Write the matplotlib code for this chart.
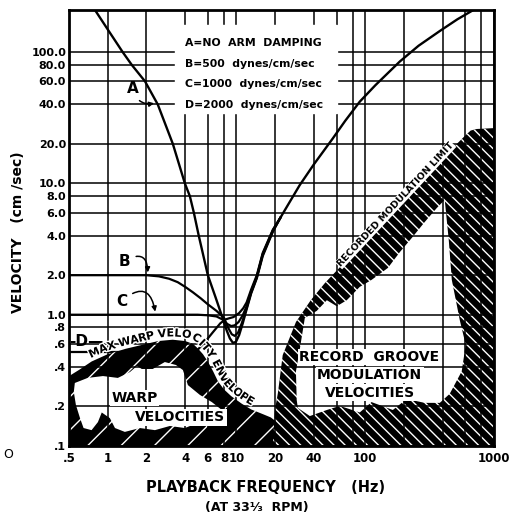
import matplotlib.pyplot as plt
import numpy as np
from matplotlib import patheffects
from matplotlib.patches import Rectangle
from matplotlib.ticker import NullLocator, NullFormatter
from matplotlib.transforms import IdentityTransform

plt.rcParams['font.family'] = 'DejaVu Sans'
plt.rcParams['font.weight'] = 'bold'
plt.rcParams['hatch.linewidth'] = 1.0

# %% data (frequency in Hz, velocity in cm/sec)
x_ticks = [0.5, 1, 2, 4, 6, 8, 10, 20, 40, 100, 1000]
x_labels = ['.5', '1', '2', '4', '6', '8', '10', '20', '40', '100', '1000']
x_grid_extra = [60, 80, 200, 400, 600, 800]
y_ticks = [0.1, 0.2, 0.4, 0.6, 0.8, 1, 2, 4, 6, 8, 10, 20, 40, 60, 80, 100]
y_labels = ['.1', '.2', '.4', '.6', '.8', '1.0', '2.0', '4.0', '6.0', '8.0',
            '10.0', '20.0', '40.0', '60.0', '80.0', '100.0']

a_freq = [0.796, 1.02, 1.31, 1.54, 1.95, 2.45, 3.21, 3.98, 4.35, 4.67, 5.1,
          6.0, 6.9, 7.85, 8.4, 8.9, 9.4, 9.9, 10.5, 11.2, 12.0, 13.0, 14.4,
          16.0, 19.2, 22, 25, 31, 40, 56, 70, 90.8, 120, 186, 260, 380, 520,
          736]
a_vel = [210, 145, 100, 80, 60, 40, 20, 10, 8, 6, 4, 2, 1.35, 0.93, 0.76,
         0.66, 0.61, 0.62, 0.70, 0.86, 1.1, 1.45, 1.9, 2.8, 4.3, 5.5, 6.8,
         9.7, 14, 22, 30, 42, 56, 85, 112, 145, 178, 217]
b_freq = [0.5, 2.0, 2.5, 3.0, 3.5, 4.0, 4.6, 5.3, 6.0, 7.0, 8.0, 8.6, 9.2,
          9.7, 10.3, 11.0, 12.0, 13.0, 14.4, 16.0, 19.2, 22]
b_vel = [2.0, 2.0, 1.96, 1.88, 1.77, 1.63, 1.48, 1.33, 1.2, 1.07, 0.95, 0.8,
         0.71, 0.69, 0.73, 0.86, 1.12, 1.47, 1.92, 2.85, 4.35, 5.5]
c_freq = [0.5, 5.0, 6.0, 7.0, 7.8, 8.5, 9.1, 9.7, 10.4, 11.2, 12.0, 13.0,
          14.4, 16.0, 19.2, 22]
c_vel = [1.0, 1.0, 0.99, 0.97, 0.92, 0.85, 0.82, 0.83, 0.88, 0.99, 1.16,
         1.5, 1.95, 2.9, 4.4, 5.5]
d_freq = [0.5, 1.0, 2.0, 4.0, 5.0, 5.7, 6.6, 7.5, 8.2, 8.8, 9.5, 10.5, 11.3,
          12.0, 13.0, 14.4, 16.0, 19.2, 22]
d_vel = [0.52, 0.52, 0.52, 0.52, 0.54, 0.62, 0.74, 0.86, 0.92, 0.94, 0.96,
         1.03, 1.12, 1.24, 1.55, 2.0, 2.95, 4.45, 5.5]

# max warp velocity envelope (top of the warp region)
env_freq = [0.5, 0.6, 0.75, 1.0, 1.38, 2.0, 2.47, 3.2, 4.0, 4.6, 5.05, 5.5,
            6.0, 6.6, 7.2, 8.0, 9.1, 11, 13, 16, 18.5, 21, 24, 26]
env_vel = [0.34, 0.38, 0.44, 0.50, 0.55, 0.60, 0.63, 0.645, 0.63, 0.60, 0.55,
           0.50, 0.44, 0.37, 0.31, 0.27, 0.24, 0.21, 0.19, 0.175, 0.165, 0.15,
           0.125, 0.1]
warp_hole_f = [0.556, 0.70, 0.92, 1.20, 1.49, 1.69, 1.84, 2.24, 2.78, 3.39,
               3.84, 4.2, 5.2, 6.44, 7.71, 7.99, 6.8, 5.0, 3.98, 3.04, 2.33,
               1.78, 1.36, 1.14, 1.04, 0.90, 0.84, 0.75, 0.65, 0.61, 0.567,
               0.546]
warp_hole_v = [0.302, 0.33, 0.341, 0.33, 0.366, 0.407, 0.386, 0.386, 0.436,
               0.414, 0.379, 0.291, 0.245, 0.216, 0.188, 0.158, 0.145, 0.15,
               0.137, 0.142, 0.132, 0.137, 0.128, 0.137, 0.163, 0.18, 0.152,
               0.132, 0.137, 0.163, 0.205, 0.258]

# recorded modulation limit (outline of the groove region)
groove_f = [19.2, 19.9, 21, 22.9, 29.0, 37.8, 48.6, 69.5, 109, 170, 265, 415,
            594, 660, 736, 1000, 1000]
groove_v = [0.1, 0.188, 0.253, 0.493, 0.88, 1.29, 1.74, 2.52, 3.97, 6.38,
            10.3, 16.2, 23, 25.3, 26, 26.4, 0.1]
groove_hole_f = [29.4, 29.0, 31.0, 34.0, 42.1, 50.4, 60.2, 72, 90.8, 112, 150,
                 186, 230, 290, 360, 415, 446, 471, 543, 604, 562, 454, 380,
                 290, 210, 164, 112, 90.8, 63.5, 50.4, 37.2, 30.0]
groove_hole_v = [0.224, 0.37, 0.54, 0.944, 1.07, 1.29, 1.16, 1.29, 1.63, 1.84,
                 2.27, 3.0, 3.84, 5.08, 6.5, 7.5, 3.71, 1.84, 0.91, 0.59, 0.37,
                 0.25, 0.213, 0.213, 0.228, 0.188, 0.216, 0.18, 0.202, 0.188,
                 0.169, 0.195]

legend_lines = ['A=NO  ARM  DAMPING', 'B=500  dynes/cm/sec',
                'C=1000  dynes/cm/sec', 'D=2000  dynes/cm/sec']


# %%


def curved_label(ax, xs, ys, label, x_start, size, lift):
    renderer = ax.figure.canvas.get_renderer()
    pts = ax.transData.transform(np.column_stack([xs, ys]))
    s = np.concatenate([[0], np.cumsum(np.hypot(*np.diff(pts, axis=0).T))])
    pos = np.interp(ax.transData.transform((x_start, 1))[0], pts[:, 0], s)
    halo = [patheffects.withStroke(linewidth=2, foreground='white')]
    for ch in label:
        t = ax.text(0, 0, ch, fontsize=size, fontweight='bold',
                    transform=IdentityTransform(), ha='center', va='baseline',
                    rotation_mode='anchor', zorder=4, path_effects=halo)
        if ch == ' ':
            w = size * 100 / 72 * 0.3
        else:
            w = t.get_window_extent(renderer).width - 0.4
        c = pos + w / 2
        x0, y0 = np.interp(c - 7, s, pts[:, 0]), np.interp(c - 7, s, pts[:, 1])
        x1, y1 = np.interp(c + 7, s, pts[:, 0]), np.interp(c + 7, s, pts[:, 1])
        ang = np.arctan2(y1 - y0, x1 - x0)
        xc, yc = np.interp(c, s, pts[:, 0]), np.interp(c, s, pts[:, 1])
        t.set_position((xc - lift * np.sin(ang), yc + lift * np.cos(ang)))
        t.set_rotation(np.degrees(ang))
        pos += w


# %%
fig = plt.figure(figsize=(5.18, 5.21), dpi=100)
ax = fig.add_axes([0.133, 0.144, 0.8205, 0.837])
ax.set_xscale('log')
ax.set_yscale('log')
ax.set_xlim(0.5, 1000)
ax.set_ylim(0.1, 210)

ax.set_xticks(x_ticks)
ax.set_xticklabels(x_labels)
ax.set_xticks(x_grid_extra, minor=True)
ax.xaxis.set_minor_formatter(NullFormatter())
ax.set_yticks(y_ticks)
ax.set_yticklabels(y_labels)
ax.yaxis.set_minor_locator(NullLocator())
ax.grid(which='both', color='black', lw=1.1)
ax.tick_params(which='both', length=0)
ax.tick_params(axis='x', labelsize=8.5, pad=4)
ax.tick_params(axis='y', labelsize=8, pad=2)
for sp in ax.spines.values():
    sp.set_linewidth(2)

# shaded regions
ax.fill(env_freq + [0.5], env_vel + [0.1], facecolor='black',
        edgecolor='white', hatch='/', lw=0, zorder=1)
ax.fill(warp_hole_f, warp_hole_v, color='white', lw=0, zorder=1.1)
ax.fill(groove_f, groove_v, facecolor='black', edgecolor='white',
        hatch='\\\\\\', lw=0, zorder=1)
ax.fill(groove_hole_f, groove_hole_v, color='white', lw=0, zorder=1.1)

# white box behind the legend text
ax.add_patch(Rectangle((0.249, 0.764), 0.381, 0.202, transform=ax.transAxes,
                       color='white', zorder=1.8))

# curves
ax.plot(d_freq, d_vel, color='black', lw=1.6, zorder=0.9)
ax.plot(a_freq, a_vel, color='black', lw=1.7, zorder=2)
ax.plot(b_freq, b_vel, color='black', lw=1.6, zorder=2)
ax.plot(c_freq, c_vel, color='black', lw=1.6, zorder=2)

# curve letters
arrow = dict(arrowstyle='-|>', color='black', lw=1.1, mutation_scale=7,
             shrinkA=2, shrinkB=1)
ax.annotate('A', xy=(2.35, 41), xytext=(1.57, 53), fontsize=11,
            ha='center', va='center', zorder=4,
            arrowprops=dict(arrow, connectionstyle='arc3,rad=0.5'))
ax.annotate('B', xy=(2.05, 2.05), xytext=(1.36, 2.55), fontsize=11,
            ha='center', va='center', zorder=4,
            arrowprops=dict(arrow, connectionstyle='arc3,rad=-0.9'))
ax.annotate('C', xy=(2.35, 1.03), xytext=(1.29, 1.27), fontsize=11,
            ha='center', va='center', zorder=4,
            arrowprops=dict(arrow, connectionstyle='arc3,rad=-0.9'))
ax.text(0.5, 0.62, '-D\u2014', fontsize=11, ha='left', va='center', zorder=4)

for i, line in enumerate(legend_lines):
    ax.text(0.273, 0.924 - i * 0.047, line, transform=ax.transAxes,
            fontsize=7.8, ha='left', va='center', zorder=4)

# region labels
box = dict(facecolor='white', edgecolor='none', pad=1)
ax.text(0.155, 0.110, 'WARP', transform=ax.transAxes, fontsize=10,
        ha='center', va='center', bbox=box, zorder=4)
ax.text(0.262, 0.066, 'VELOCITIES', transform=ax.transAxes, fontsize=10,
        ha='center', va='center', bbox=box, zorder=4)
ax.text(0.706, 0.204, 'RECORD  GROOVE', transform=ax.transAxes, fontsize=10,
        ha='center', va='center', bbox=box, zorder=4)
ax.text(0.708, 0.163, 'MODULATION', transform=ax.transAxes, fontsize=10,
        ha='center', va='center', bbox=box, zorder=4)
ax.text(0.708, 0.122, 'VELOCITIES', transform=ax.transAxes, fontsize=10,
        ha='center', va='center', bbox=box, zorder=4)
ax.text(172, 6.9, 'RECORDED MODULATION LIMIT', fontsize=6.8, rotation=47,
        ha='center', va='center', rotation_mode='anchor',
        bbox=dict(facecolor='white', edgecolor='none', pad=0.5), zorder=4)
curved_label(ax, env_freq, env_vel, 'MAX WARP VELOCITY ENVELOPE', 0.76, 8, 3.5)

# axis titles
fig.text(0.035, 0.555, 'VELOCITY   (cm /sec)', rotation=90, fontsize=10,
         ha='center', va='center')
fig.text(0.512, 0.065, 'PLAYBACK FREQUENCY   (Hz)', fontsize=10.5,
         ha='center', va='center')
fig.text(0.495, 0.025, '(AT 33\u00b9\u2044\u2083  RPM)', fontsize=9,
         ha='center', va='center')
fig.text(0.015, 0.127, 'O', fontsize=9, fontweight='normal',
         ha='center', va='center')

fig.savefig('out.png', dpi=100)
